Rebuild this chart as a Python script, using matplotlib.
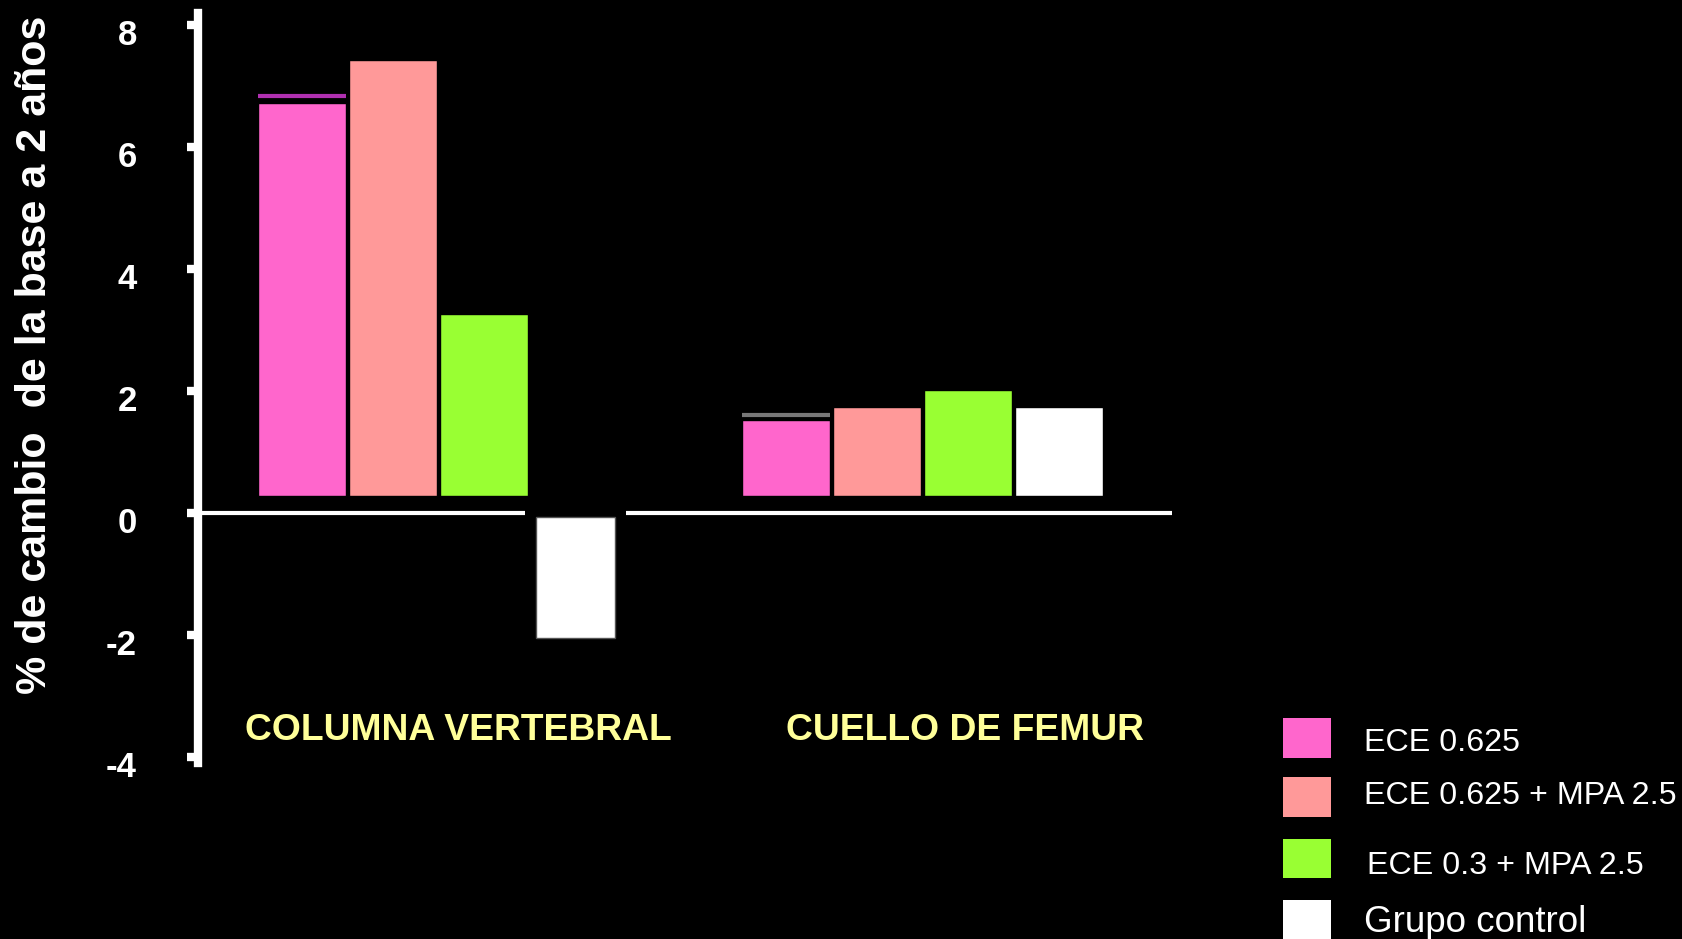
import numpy as np
import matplotlib.pyplot as plt
import matplotlib.transforms as mtransforms

# data
sites = ['COLUMNA VERTEBRAL', 'CUELLO DE FEMUR']
groups = ['ECE 0.625', 'ECE 0.625 + MPA 2.5', 'ECE 0.3 + MPA 2.5', 'Grupo control']
colors = ['#FF66CC', '#FF9999', '#99FF33', '#FFFFFF']
ece_0625 = [6.72, 1.53]
ece_0625_mpa = [7.42, 1.74]
ece_03_mpa = [3.26, 2.01]
control = [-2.05, 1.74]
yticks = [-4, -2, 0, 2, 4, 6, 8]

values = [ece_0625, ece_0625_mpa, ece_03_mpa, control]

plt.rcParams['font.family'] = ['Liberation Sans', 'DejaVu Sans']

fig = plt.figure(figsize=(16.82, 9.39), dpi=100, facecolor='black')
ax = fig.add_axes([0.1177, 0.1874, 0.5793, 0.799], facecolor='black')

x = np.arange(len(sites))
step = 0.188
width = 0.182
lift = 0.28  # bars on the slide float a bit above the zero line
for i in range(len(groups)):
    for j in range(len(sites)):
        v = values[i][j]
        pos = x[j] + (i - 1.5) * step
        if v >= 0:
            ax.bar(pos, v - lift, bottom=lift, width=width,
                   color=colors[i], edgecolor='black', linewidth=1, zorder=3)
        else:
            # black block behind the bar breaks the zero line like on the slide
            ax.bar(pos, v - 0.1, bottom=0.1, width=0.208, color='black', zorder=2.5)
            ax.bar(pos, v + 0.07, bottom=-0.07, width=width * 0.9,
                   color=colors[i], edgecolor='#555555', linewidth=1, zorder=3)

# thin caps sitting above the ECE 0.625 bars
ax.hlines([6.83, 1.60], x + (-1.5) * step - width / 2, x + (-1.5) * step + width / 2,
          colors=['#B030B0', '#777777'], linewidth=3, zorder=2)

ax.axhline(0, color='white', linewidth=3, zorder=2)

ax.set_xlim(-0.498, 1.516)
ax.set_ylim(-4.1, 8.2)
ax.set_yticks(yticks)
ax.set_yticklabels([str(t) for t in yticks], color='white', fontsize=25,
                   fontweight='bold')
ax.tick_params(axis='y', colors='white', length=8, width=6, pad=36)
shift = mtransforms.ScaledTranslation(0, -5 / 72, fig.dpi_scale_trans)
for lab in ax.get_yticklabels():
    lab.set_transform(lab.get_transform() + shift)
ax.set_xticks([])
for s in ['top', 'right', 'bottom']:
    ax.spines[s].set_visible(False)
ax.spines['left'].set_color('white')
ax.spines['left'].set_linewidth(6)

fig.text(0.021, 0.622, '% de cambio  de la base a 2 años', rotation=90,
         color='white', fontsize=31, fontweight='bold', ha='center', va='center',
         family=['Liberation Sans Narrow', 'Liberation Sans', 'DejaVu Sans'])

label_shift = [0.04, 0.087]
for j, name in enumerate(sites):
    ax.text(x[j] + label_shift[j], -3.57, name, color='#FFFF99', fontsize=26.8,
            fontweight='bold', ha='center', va='center')

# legend, laid out as on the slide
leg_y = [0.214, 0.151, 0.086, 0.021]
txt_y = [0.2085, 0.1525, 0.0775, 0.0175]
txt_x = [0.811, 0.811, 0.813, 0.811]
txt_size = [23.2, 23.2, 23.2, 26.5]
for i, g in enumerate(groups):
    fig.patches.append(plt.Rectangle((0.7628, leg_y[i] - 0.021), 0.0286, 0.042,
                                     transform=fig.transFigure, facecolor=colors[i],
                                     edgecolor='none'))
    fig.text(txt_x[i], txt_y[i], g, color='white', fontsize=txt_size[i], ha='left',
             va='center')

fig.savefig('out.png', dpi=100, facecolor='black')
